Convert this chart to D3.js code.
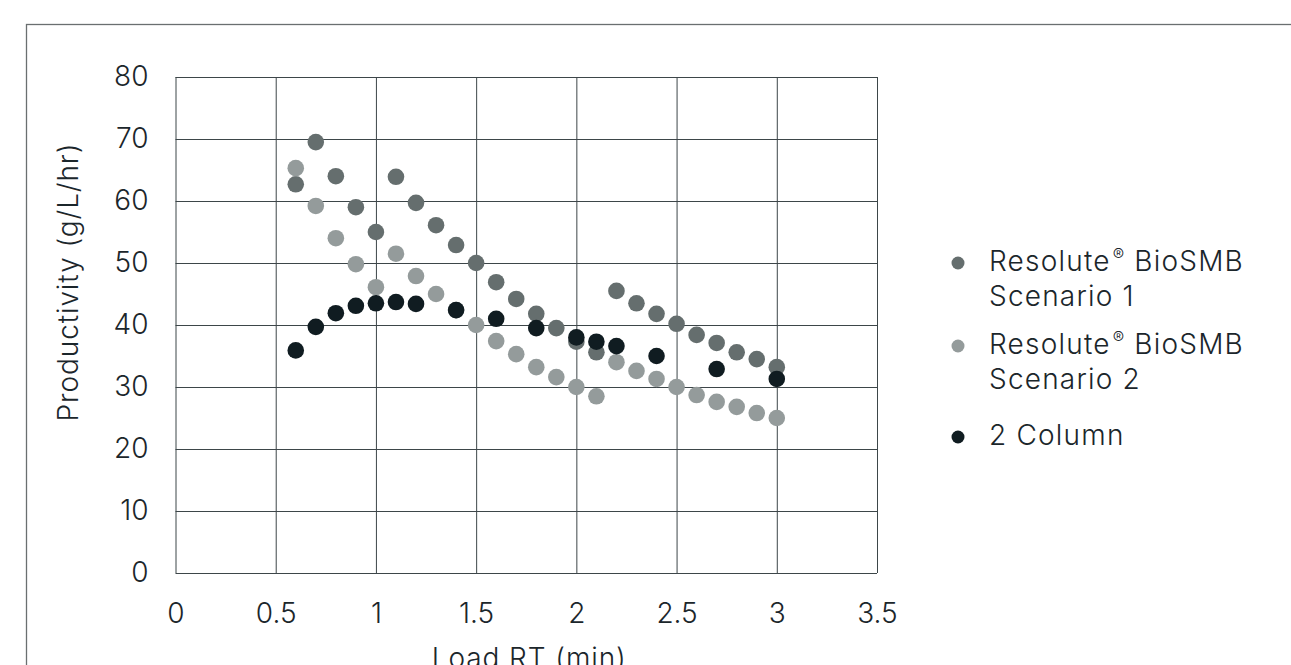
<!DOCTYPE html>
<html>
<head>
<meta charset="utf-8">
<script src="https://cdn.jsdelivr.net/npm/d3@7"></script>
<style>
  html, body { margin: 0; padding: 0; background: #ffffff; overflow: hidden; }
  svg { display: block; }
  text { font-family: "Inter", "Noto Sans", sans-serif; fill: #1b262b; font-weight: 300; }
</style>
</head>
<body>
<svg id="chart" width="1291" height="665"></svg>
<script>
// ---- Data ----
const xTicks = [0, 0.5, 1, 1.5, 2, 2.5, 3, 3.5];
const yTicks = [0, 10, 20, 30, 40, 50, 60, 70, 80];

const scenario1X = [0.6, 0.7, 0.8, 0.9, 1.0, 1.1, 1.2, 1.3, 1.4, 1.5, 1.6, 1.7, 1.8, 1.9, 2.0, 2.1, 2.2, 2.3, 2.4, 2.5, 2.6, 2.7, 2.8, 2.9, 3.0];
const scenario1Y = [62.7, 69.5, 64.0, 59.0, 55.0, 63.9, 59.7, 56.1, 52.9, 50.0, 46.9, 44.2, 41.8, 39.5, 37.3, 35.6, 45.5, 43.5, 41.8, 40.2, 38.4, 37.1, 35.6, 34.5, 33.2];

const scenario2X = [0.6, 0.7, 0.8, 0.9, 1.0, 1.1, 1.2, 1.3, 1.4, 1.5, 1.6, 1.7, 1.8, 1.9, 2.0, 2.1, 2.2, 2.3, 2.4, 2.5, 2.6, 2.7, 2.8, 2.9, 3.0];
const scenario2Y = [65.3, 59.2, 54.0, 49.8, 46.1, 51.5, 47.9, 45.0, 42.4, 40.0, 37.4, 35.3, 33.2, 31.6, 30.0, 28.5, 34.0, 32.6, 31.3, 30.0, 28.7, 27.6, 26.8, 25.8, 25.0];

const column2X = [0.6, 0.7, 0.8, 0.9, 1.0, 1.1, 1.2, 1.4, 1.6, 1.8, 2.0, 2.1, 2.2, 2.4, 2.7, 3.0];
const column2Y = [35.9, 39.7, 41.9, 43.1, 43.5, 43.7, 43.4, 42.4, 41.0, 39.5, 38.0, 37.3, 36.6, 35.0, 32.9, 31.3];

// each legend entry: list of lines; each line: [main text, superscript text]
const seriesNames = [
  [["Resolute", "\u00AE", " BioSMB"], ["Scenario 1"]],
  [["Resolute", "\u00AE", " BioSMB"], ["Scenario 2"]],
  [["2 Column"]]
];
const seriesColors = ["#656e6e", "#949b9b", "#101c21"];

const series = [
  { name: seriesNames[0], color: seriesColors[0], pts: scenario1X.map((x, i) => [x, scenario1Y[i]]) },
  { name: seriesNames[1], color: seriesColors[1], pts: scenario2X.map((x, i) => [x, scenario2Y[i]]) },
  { name: seriesNames[2], color: seriesColors[2], pts: column2X.map((x, i) => [x, column2Y[i]]) }
];

// ---- Layout ----
const svg = d3.select("#chart");
const plot = { left: 175.5, right: 877, top: 77, bottom: 573 };
const fontSize = "28px";

const x = d3.scaleLinear().domain([0, 3.5]).range([plot.left, plot.right]);
const y = d3.scaleLinear().domain([0, 80]).range([plot.bottom, plot.top]);

// outer frame (extends past the viewport on right/bottom)
svg.append("rect")
  .attr("x", 26.5).attr("y", 24.5)
  .attr("width", 1400).attr("height", 800)
  .attr("fill", "none").attr("stroke", "#6a6f70").attr("stroke-width", 1.3);

const gridColor = "#3d4649";

// horizontal grid
svg.append("g")
  .attr("transform", `translate(${plot.left},0)`)
  .call(d3.axisLeft(y).tickValues(yTicks).tickSize(-(plot.right - plot.left)).tickFormat(""))
  .call(g => g.select(".domain").remove())
  .call(g => g.selectAll(".tick line").attr("stroke", gridColor).attr("stroke-width", 1));

// vertical grid
svg.append("g")
  .attr("transform", `translate(0,${plot.bottom})`)
  .call(d3.axisBottom(x).tickValues(xTicks).tickSize(-(plot.bottom - plot.top)).tickFormat(""))
  .call(g => g.select(".domain").remove())
  .call(g => g.selectAll(".tick line").attr("stroke", gridColor).attr("stroke-width", 1));

// y tick labels
svg.append("g")
  .attr("transform", `translate(${plot.left},0)`)
  .call(d3.axisLeft(y).tickValues(yTicks).tickSize(0).tickPadding(27).tickFormat(d3.format("d")))
  .call(g => g.select(".domain").remove())
  .call(g => g.selectAll(".tick text")
    .style("font-size", fontSize).style("font-family", "Inter, 'Noto Sans', sans-serif")
    .style("font-weight", 300).attr("fill", "#1b262b"));

// x tick labels
svg.append("g")
  .attr("transform", `translate(0,${plot.bottom})`)
  .call(d3.axisBottom(x).tickValues(xTicks).tickSize(0).tickPadding(30).tickFormat(d => String(d)))
  .call(g => g.select(".domain").remove())
  .call(g => g.selectAll(".tick text")
    .style("font-size", fontSize).style("font-family", "Inter, 'Noto Sans', sans-serif")
    .style("font-weight", 300).attr("fill", "#1b262b"));

// axis titles
svg.append("text")
  .attr("transform", "translate(78,282) rotate(-90)")
  .attr("text-anchor", "middle")
  .style("font-size", fontSize)
  .style("letter-spacing", "0.9px")
  .text("Productivity (g/L/hr)");

svg.append("text")
  .attr("x", (plot.left + plot.right) / 2 + 3).attr("y", 668)
  .attr("text-anchor", "middle")
  .style("font-size", fontSize)
  .style("letter-spacing", "0.9px")
  .text("Load RT (min)");

// points
series.forEach(s => {
  svg.append("g").selectAll("circle").data(s.pts).join("circle")
    .attr("cx", d => x(d[0])).attr("cy", d => y(d[1]))
    .attr("r", 8.3).attr("fill", s.color);
});

// legend
const legendY = [263, 346, 437];
const legend = svg.append("g");
series.forEach((s, i) => {
  legend.append("circle").attr("cx", 958).attr("cy", legendY[i]).attr("r", 6.5).attr("fill", s.color);
  s.name.forEach((parts, j) => {
    const t = legend.append("text")
      .attr("x", 989).attr("y", legendY[i] - 2 + j * 35 + 10)
      .style("font-size", fontSize)
      .style("letter-spacing", "1.2px");
    t.append("tspan").text(parts[0]);
    if (parts.length > 1) {
      t.append("tspan").attr("dy", "-10").attr("dx", "2").style("font-size", "17px").text(parts[1]);
      t.append("tspan").attr("dy", "10").text(parts[2]);
    }
  });
});
</script>
</body>
</html>
